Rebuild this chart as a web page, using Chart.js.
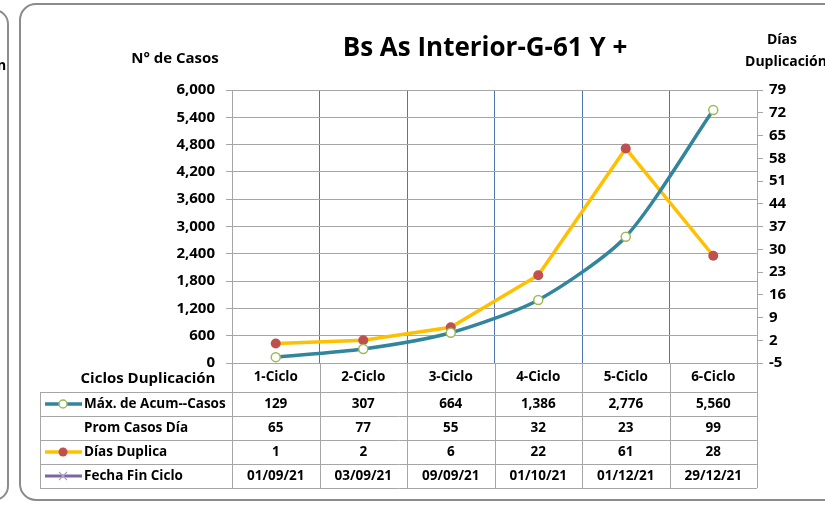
<!DOCTYPE html>
<html>
<head>
<meta charset="utf-8">
<script src="https://cdn.jsdelivr.net/npm/chart.js@4/dist/chart.umd.min.js"></script>
<style>
  body { margin: 0; background: #fff; }
  canvas { display: block; }
</style>
</head>
<body>
<canvas id="chart" width="825" height="505"></canvas>
<script>
// chart values
const ciclos = ["1-Ciclo", "2-Ciclo", "3-Ciclo", "4-Ciclo", "5-Ciclo", "6-Ciclo"];
const maxAcumCasos = [129, 307, 664, 1386, 2776, 5560];
const promCasosDia = [65, 77, 55, 32, 23, 99];
const diasDuplica = [1, 2, 6, 22, 61, 28];
const fechaFinCiclo = ["01/09/21", "03/09/21", "09/09/21", "01/10/21", "01/12/21", "29/12/21"];

const FONT = "'Open Sans', Lato, sans-serif";
const fmt = (v) => v.toLocaleString("en-US");

// Frames, title and axis titles
const decor = {
  id: "decor",
  beforeDraw(chart) {
    const c = chart.ctx;
    c.save();
    c.fillStyle = "#fff";
    c.fillRect(0, 0, chart.width, chart.height);
    c.strokeStyle = "#8c8c8c";
    c.lineWidth = 2;
    c.beginPath();
    c.roundRect(-40, 10, 48, 490, 14);
    c.stroke();
    c.beginPath();
    c.roundRect(20, 4, 830, 496, 16);
    c.stroke();
    c.fillStyle = "#000";
    c.font = "bold 14px " + FONT;
    c.textAlign = "left";
    c.textBaseline = "middle";
    c.fillText("n", -3, 66);
    c.restore();
  },
  afterDraw(chart) {
    const c = chart.ctx;
    c.save();
    c.fillStyle = "#000";
    c.textAlign = "center";
    c.textBaseline = "middle";
    c.font = "bold 26px " + FONT;
    c.fillText("Bs As Interior-G-61 Y +", 485, 49);
    c.font = "bold 15px " + FONT;
    c.fillText("N° de Casos", 175, 59);
    c.font = "bold 14px " + FONT;
    c.fillText("Días", 782, 40);
    c.fillText("Duplicación", 786, 62);
    c.restore();
  }
};

// Data table under the plot
const dataTable = {
  id: "dataTable",
  afterDraw(chart) {
    const c = chart.ctx;
    const x = chart.scales.x;
    const area = chart.chartArea;
    const colW = (area.right - area.left) / ciclos.length;
    const tableLeft = 40;
    const rowsY = [area.bottom, 392, 416, 440, 464, 488];
    const rows = [
      { label: "Máx. de Acum--Casos", values: maxAcumCasos.map(fmt), key: "casos" },
      { label: "Prom Casos Día", values: promCasosDia.map(String), key: null },
      { label: "Días Duplica", values: diasDuplica.map(String), key: "dias" },
      { label: "Fecha Fin Ciclo", values: fechaFinCiclo, key: "fecha" }
    ];
    c.save();
    c.strokeStyle = "#a6a6a6";
    c.lineWidth = 1;
    // horizontal lines
    for (let i = 1; i < rowsY.length; i++) {
      c.beginPath();
      c.moveTo(tableLeft, rowsY[i] + 0.5);
      c.lineTo(area.right, rowsY[i] + 0.5);
      c.stroke();
    }
    // vertical lines
    c.beginPath();
    c.moveTo(tableLeft + 0.5, rowsY[1]);
    c.lineTo(tableLeft + 0.5, rowsY[5]);
    c.stroke();
    for (let i = 0; i <= ciclos.length; i++) {
      const px = Math.round(area.left + i * colW) + 0.5;
      c.beginPath();
      c.moveTo(px, area.bottom);
      c.lineTo(px, rowsY[5]);
      c.stroke();
    }
    c.fillStyle = "#000";
    c.textBaseline = "middle";
    c.textAlign = "center";
    c.font = "bold 15px " + FONT;
    c.fillText("Ciclos Duplicación", 148, 379);
    c.font = "bold 13.5px " + FONT;
    ciclos.forEach((lab, i) => c.fillText(lab, x.getPixelForValue(i), 377));
    rows.forEach((row, r) => {
      const cy = (rowsY[r + 1] + rowsY[r + 2]) / 2;
      c.font = "bold 13.5px " + FONT;
      row.values.forEach((v, i) => c.fillText(v, x.getPixelForValue(i), cy));
      c.textAlign = "left";
      c.fillText(row.label, 84, cy);
      c.textAlign = "center";
      // legend keys
      if (row.key === "casos") {
        c.strokeStyle = "#31859c"; c.lineWidth = 3.5;
        c.beginPath(); c.moveTo(45, cy); c.lineTo(82, cy); c.stroke();
        c.fillStyle = "#fff"; c.strokeStyle = "#9bbb59"; c.lineWidth = 1.5;
        c.beginPath(); c.arc(63, cy, 4, 0, Math.PI * 2); c.fill(); c.stroke();
      } else if (row.key === "dias") {
        c.strokeStyle = "#ffc000"; c.lineWidth = 3.5;
        c.beginPath(); c.moveTo(45, cy); c.lineTo(82, cy); c.stroke();
        c.fillStyle = "#c0504d";
        c.beginPath(); c.arc(63, cy, 4.5, 0, Math.PI * 2); c.fill();
      } else if (row.key === "fecha") {
        c.strokeStyle = "#8064a2"; c.lineWidth = 3;
        c.beginPath(); c.moveTo(45, cy); c.lineTo(82, cy); c.stroke();
        c.strokeStyle = "#b3a2c7"; c.lineWidth = 1.2;
        c.beginPath();
        c.moveTo(59, cy - 4); c.lineTo(67, cy + 4);
        c.moveTo(67, cy - 4); c.lineTo(59, cy + 4);
        c.stroke();
      }
      c.fillStyle = "#000";
    });
    c.restore();
  }
};

new Chart(document.getElementById("chart"), {
  type: "line",
  data: {
    labels: ciclos,
    datasets: [
      {
        label: "Máx. de Acum--Casos",
        data: maxAcumCasos,
        yAxisID: "y",
        borderColor: "#31859c",
        borderWidth: 3.5,
        pointRadius: 4.5,
        pointBorderWidth: 1.5,
        pointBorderColor: "#9bbb59",
        pointBackgroundColor: "#fff",
        tension: 0.25
      },
      {
        label: "Días Duplica",
        data: diasDuplica,
        yAxisID: "y2",
        borderColor: "#ffc000",
        borderWidth: 3.5,
        pointRadius: 5,
        pointBorderWidth: 0,
        pointBackgroundColor: "#c0504d",
        pointBorderColor: "#c0504d",
        tension: 0
      }
    ]
  },
  options: {
    responsive: false,
    animation: false,
    layout: { padding: { top: 90, bottom: 142, left: 0, right: 0 } },
    plugins: {
      legend: { display: false },
      title: { display: false },
      tooltip: { enabled: false }
    },
    scales: {
      x: {
        offset: true,
        grid: { offset: true, color: "#4f76b0", drawTicks: false },
        border: { color: "#a6a6a6" },
        ticks: { display: false },
        afterFit: (s) => { s.height = 0; }
      },
      y: {
        position: "left",
        min: 0,
        max: 6000,
        ticks: {
          stepSize: 600,
          color: "#000",
          padding: 11,
          font: { family: FONT, size: 15, weight: "bold" },
          callback: (v) => fmt(v)
        },
        grid: { color: "#a6a6a6", tickLength: 6 },
        border: { color: "#a6a6a6" },
        afterFit: (s) => { s.width = 232; }
      },
      y2: {
        position: "right",
        min: -5,
        max: 79,
        ticks: {
          stepSize: 7,
          color: "#000",
          padding: 6,
          font: { family: FONT, size: 15, weight: "bold" }
        },
        grid: { drawOnChartArea: false, color: "#a6a6a6", tickLength: 6 },
        border: { color: "#a6a6a6" },
        afterFit: (s) => { s.width = 68; }
      }
    }
  },
  plugins: [decor, dataTable]
});
</script>
</body>
</html>
